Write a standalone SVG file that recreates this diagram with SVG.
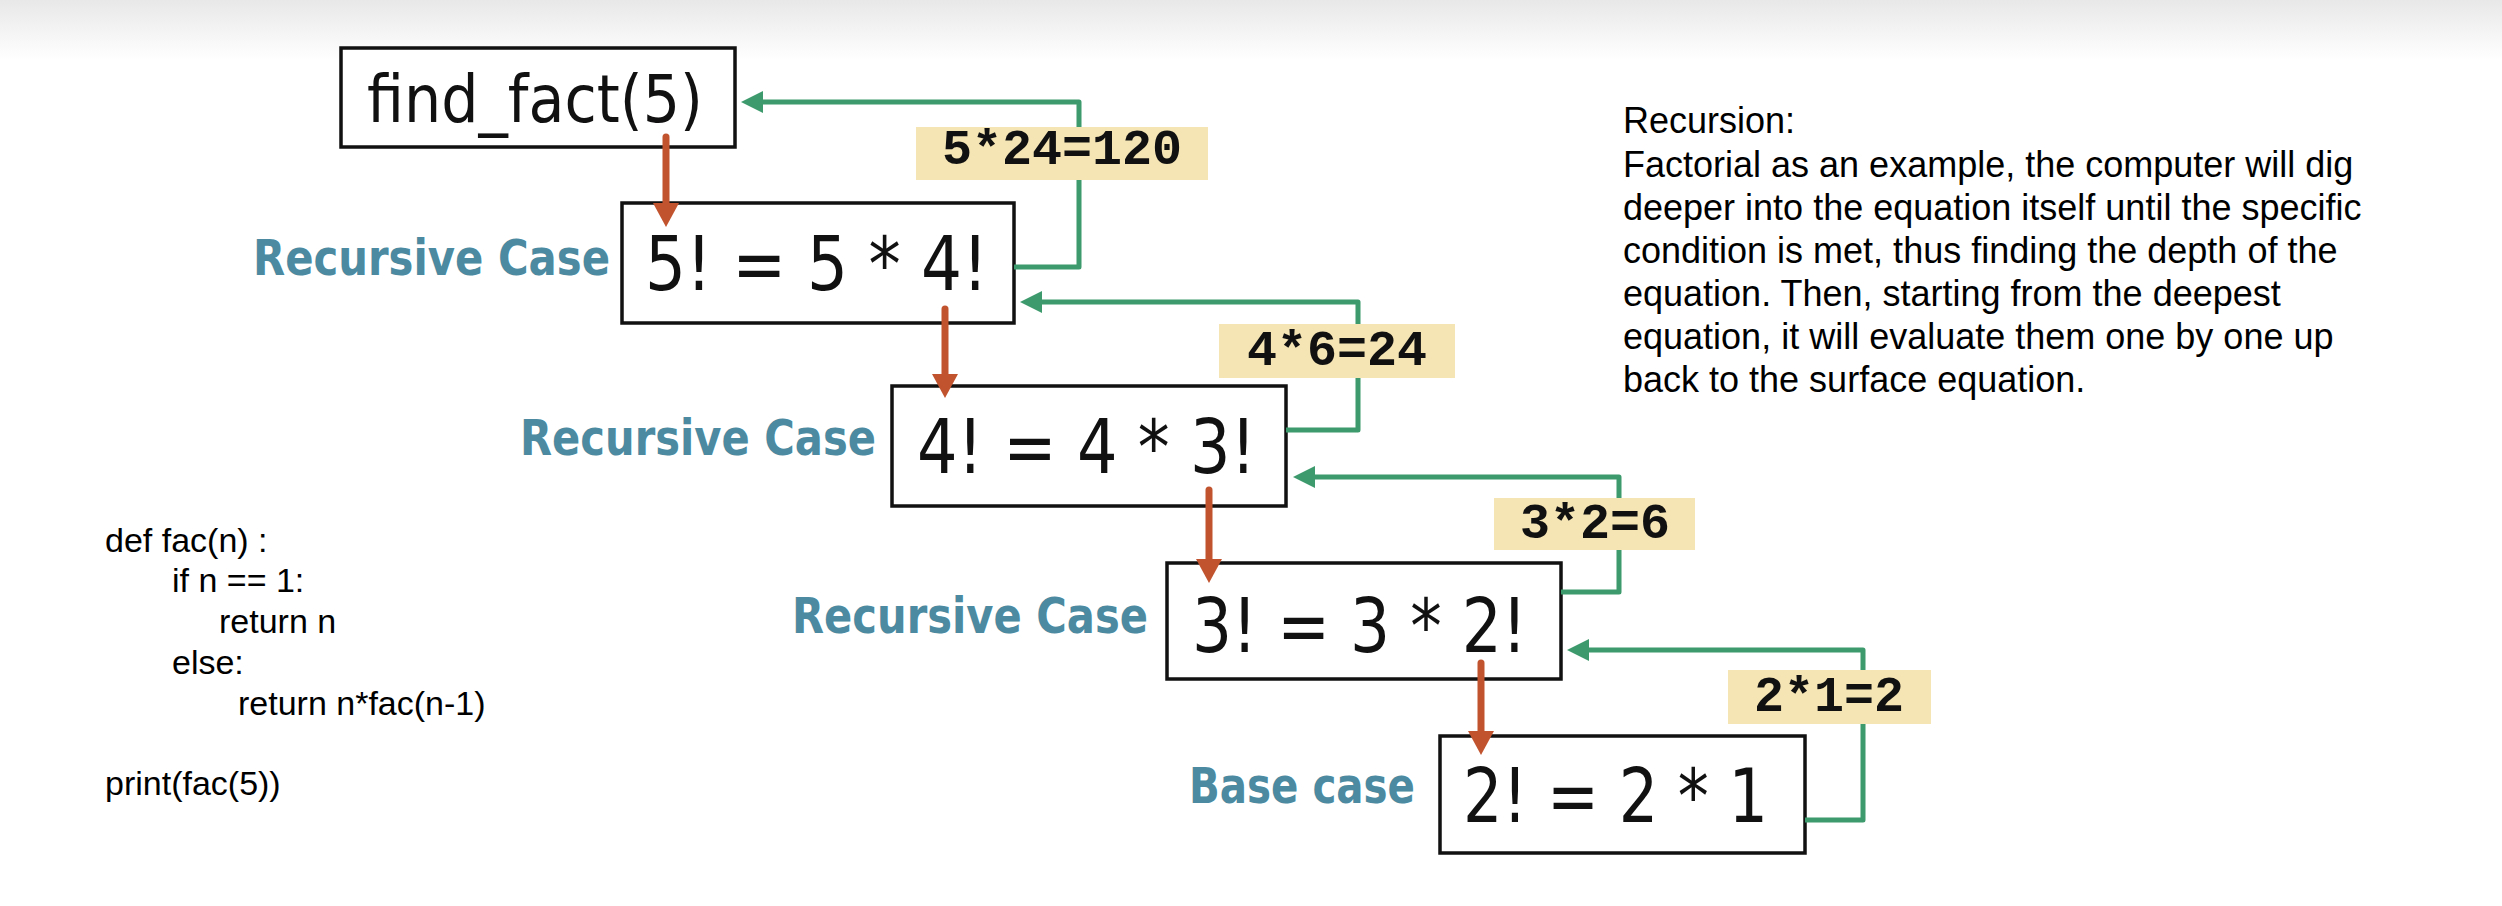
<svg xmlns="http://www.w3.org/2000/svg" width="2502" height="906" viewBox="0 0 2502 906">
  <defs>
    <linearGradient id="topfade" x1="0" y1="0" x2="0" y2="1">
      <stop offset="0" stop-color="#e8e8e8"/>
      <stop offset="1" stop-color="#ffffff"/>
    </linearGradient>
    <marker id="gHead" markerUnits="userSpaceOnUse" markerWidth="24" markerHeight="22" refX="0" refY="11" orient="auto">
      <path d="M0,0 L22,11 L0,22 z" fill="#3c9a6c"/>
    </marker>
    <marker id="rHead" markerUnits="userSpaceOnUse" markerWidth="26" markerHeight="26" refX="0" refY="13" orient="auto">
      <path d="M0,0 L24,13 L0,26 z" fill="#c1542f"/>
    </marker>
  </defs>
  <style>
    .box { fill: #ffffff; stroke: #111111; stroke-width: 3.5; }
    .eq { font-family: "DejaVu Sans", "Liberation Sans", sans-serif; font-size: 75px; fill: #111111; }
    .call { font-family: "DejaVu Sans", "Liberation Sans", sans-serif; font-size: 66px; fill: #111111; }
    .case { font-family: "DejaVu Sans", "Liberation Sans", sans-serif; font-size: 50px; font-weight: bold; fill: #4b8aa0; }
    .ret { fill: none; stroke: #3c9a6c; stroke-width: 5; stroke-linejoin: round; marker-end: url(#gHead); }
    .dn { fill: none; stroke: #c1542f; stroke-width: 7; stroke-linecap: round; marker-end: url(#rHead); }
    .lblbox { fill: #f5e5b5; }
    .lbl { font-family: "Liberation Mono", "DejaVu Sans Mono", monospace; font-size: 50px; font-weight: bold; fill: #111111; text-anchor: middle; }
    .note { font-family: "Liberation Sans", Arial, sans-serif; font-size: 36px; fill: #000000; }
    .code { font-family: "Liberation Sans", Arial, sans-serif; font-size: 34px; fill: #000000; }
  </style>

  <rect x="0" y="0" width="2502" height="906" fill="#ffffff"/>
  <rect x="0" y="0" width="2502" height="60" fill="url(#topfade)"/>

  <g id="node-call">
    <rect class="box" x="341" y="48" width="394" height="99"/>
    <text class="call" x="367" y="122" textLength="336" lengthAdjust="spacingAndGlyphs">find_fact(5)</text>
  </g>

  <g id="node-5">
    <rect class="box" x="622" y="203" width="392" height="120"/>
    <text class="eq" x="645" y="290" textLength="343" lengthAdjust="spacingAndGlyphs">5! = 5 * 4!</text>
    <text class="case" x="253" y="275" textLength="357" lengthAdjust="spacingAndGlyphs">Recursive Case</text>
  </g>

  <g id="node-4">
    <rect class="box" x="892" y="386" width="394" height="120"/>
    <text class="eq" x="917" y="473" textLength="339" lengthAdjust="spacingAndGlyphs">4! = 4 * 3!</text>
    <text class="case" x="520" y="455" textLength="356" lengthAdjust="spacingAndGlyphs">Recursive Case</text>
  </g>

  <g id="node-3">
    <rect class="box" x="1167" y="563" width="394" height="116"/>
    <text class="eq" x="1192" y="652" textLength="335" lengthAdjust="spacingAndGlyphs">3! = 3 * 2!</text>
    <text class="case" x="792" y="633" textLength="356" lengthAdjust="spacingAndGlyphs">Recursive Case</text>
  </g>

  <g id="node-2">
    <rect class="box" x="1440" y="736" width="365" height="117"/>
    <text class="eq" x="1463" y="822" textLength="305" lengthAdjust="spacingAndGlyphs">2! = 2 * 1</text>
    <text class="case" x="1189" y="803" textLength="226" lengthAdjust="spacingAndGlyphs">Base case</text>
  </g>

  <g id="connectors">
    <path class="dn" d="M666,137 V203"/>
    <path class="dn" d="M945,309 V374"/>
    <path class="dn" d="M1209,490 V559"/>
    <path class="dn" d="M1481,663 V731"/>

    <path class="ret" d="M1014,267 H1079 V102 H763"/>
    <path class="ret" d="M1286,430 H1358 V302 H1042"/>
    <path class="ret" d="M1561,592 H1619 V477 H1315"/>
    <path class="ret" d="M1805,820 H1863 V650 H1589"/>

    <rect class="lblbox" x="916" y="127" width="292" height="53"/>
    <text class="lbl" x="1062" y="164">5*24=120</text>
    <rect class="lblbox" x="1219" y="324" width="236" height="54"/>
    <text class="lbl" x="1337" y="365">4*6=24</text>
    <rect class="lblbox" x="1494" y="498" width="201" height="52"/>
    <text class="lbl" x="1595" y="538">3*2=6</text>
    <rect class="lblbox" x="1728" y="670" width="203" height="54"/>
    <text class="lbl" x="1829" y="711">2*1=2</text>
  </g>

  <g id="note">
    <text class="note" x="1623" y="133">Recursion:</text>
    <text class="note" x="1623" y="177">Factorial as an example, the computer will dig</text>
    <text class="note" x="1623" y="220">deeper into the equation itself until the specific</text>
    <text class="note" x="1623" y="263">condition is met, thus finding the depth of the</text>
    <text class="note" x="1623" y="306">equation. Then, starting from the deepest</text>
    <text class="note" x="1623" y="349">equation, it will evaluate them one by one up</text>
    <text class="note" x="1623" y="392">back to the surface equation.</text>
  </g>

  <g id="code">
    <text class="code" x="105" y="552">def fac(n) :</text>
    <text class="code" x="172" y="592">if n == 1:</text>
    <text class="code" x="219" y="633">return n</text>
    <text class="code" x="172" y="674">else:</text>
    <text class="code" x="238" y="715">return n*fac(n-1)</text>
    <text class="code" x="105" y="795">print(fac(5))</text>
  </g>
</svg>
